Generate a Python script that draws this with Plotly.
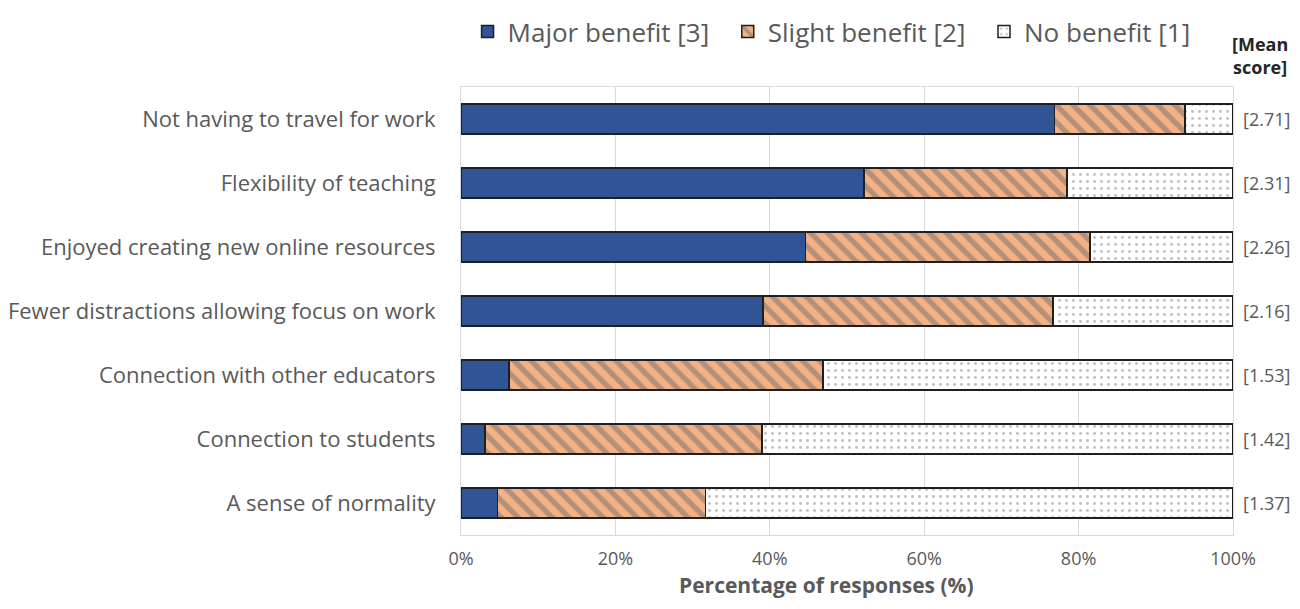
import plotly.graph_objects as go

# benefits of remote teaching - share of responses per item (top to bottom)
items = [
    "Not having to travel for work",
    "Flexibility of teaching",
    "Enjoyed creating new online resources",
    "Fewer distractions allowing focus on work",
    "Connection with other educators",
    "Connection to students",
    "A sense of normality",
]
major = [76.9, 52.2, 44.6, 39.1, 6.2, 3.1, 4.7]
slight = [16.9, 26.3, 36.9, 37.6, 40.7, 35.9, 27.0]
none_ = [6.2, 21.5, 18.5, 23.3, 53.1, 61.0, 68.3]
mean_scores = ["2.71", "2.31", "2.26", "2.16", "1.53", "1.42", "1.37"]

x_ticks = [0, 20, 40, 60, 80, 100]
x_tick_labels = ["0%", "20%", "40%", "60%", "80%", "100%"]

font_name = "Open Sans"
grey_text = "#595959"
outline = dict(color="#1f1f1f", width=1.5)

fig = go.Figure()

fig.add_trace(go.Bar(
    y=items, x=major, orientation="h", name="Major benefit [3]  ",
    marker=dict(color="#2F5597", line=outline),
    width=0.47,
))
fig.add_trace(go.Bar(
    y=items, x=slight, orientation="h", name="Slight benefit [2]  ",
    marker=dict(color="#F4B183", line=outline,
                pattern=dict(shape="\\", bgcolor="#F4B183", fgcolor="#707070",
                             size=12, solidity=0.45)),
    width=0.47,
))
fig.add_trace(go.Bar(
    y=items, x=none_, orientation="h", name="No benefit [1]",
    marker=dict(color="white", line=outline,
                pattern=dict(shape=".", bgcolor="white", fgcolor="#808080",
                             size=7, solidity=0.14)),
    width=0.47,
))

# mean score labels to the right of each bar
for item, score in zip(items, mean_scores):
    fig.add_annotation(
        x=1.0, xref="paper", y=item, yref="y",
        text=f"[{score}]", showarrow=False, xanchor="left", xshift=8,
        font=dict(family=font_name, size=18, color=grey_text),
    )

fig.add_annotation(
    x=1.0, xref="paper", y=1.0, yref="paper",
    text="<b>[Mean<br>score]</b>", showarrow=False,
    xanchor="right", yanchor="bottom", xshift=57, yshift=6, align="center",
    font=dict(family=font_name, size=18, color="#262626"),
)

# axis title placed like the original (a little left of centre)
fig.add_annotation(
    x=0.473, xref="paper", y=0, yref="paper",
    text="<b>Percentage of responses (%)</b>", showarrow=False,
    xanchor="center", yanchor="middle", yshift=-50,
    font=dict(family=font_name, size=21, color=grey_text),
)

fig.update_layout(
    barmode="stack",
    width=1284, height=593,
    margin=dict(l=453, r=59, t=79, b=66),
    plot_bgcolor="white", paper_bgcolor="white",
    font=dict(family=font_name, color=grey_text),
    legend=dict(
        orientation="h", x=0.48, xanchor="center", y=1.0, yanchor="top",
        yref="container", font=dict(size=26, color=grey_text),
        traceorder="normal", itemwidth=30,
    ),
    xaxis=dict(
        range=[0, 100], tickvals=x_ticks, ticktext=x_tick_labels,
        showgrid=True, gridcolor="#d9d9d9", gridwidth=1,
        zeroline=False, showline=True, linecolor="#d9d9d9", mirror=True,
        tickfont=dict(size=18, color=grey_text), ticks="", ticklabelstandoff=7,
        automargin=False,
    ),
    yaxis=dict(
        categoryorder="array", categoryarray=items, autorange="reversed",
        showline=True, linecolor="#d9d9d9", mirror=True, showgrid=False,
        tickfont=dict(size=22, color=grey_text), ticks="", ticklabelstandoff=20,
        automargin=False,
    ),
)

fig.write_html("out.html")
